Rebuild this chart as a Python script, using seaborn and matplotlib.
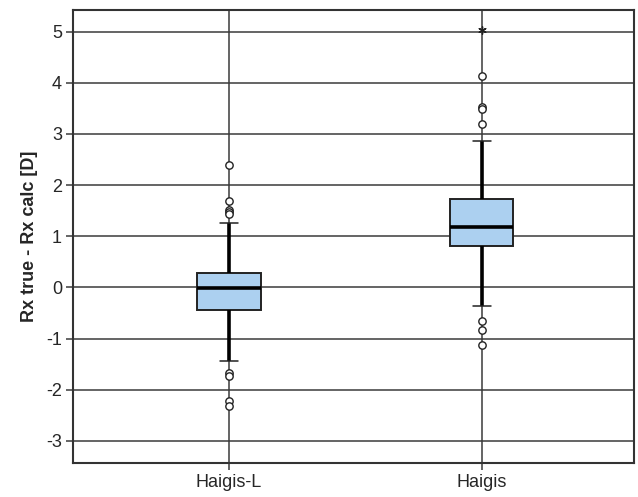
import numpy as np
import pandas as pd
import matplotlib
matplotlib.use("Agg")
import matplotlib.pyplot as plt
import seaborn as sns

# Formula groups
groups = ["Haigis-L", "Haigis"]

# Five-number summaries (lower whisker, Q1, median, Q3, upper whisker) in dioptres
summary_haigis_l = [-1.44, -0.45, -0.01, 0.28, 1.25]
summary_haigis = [-0.37, 0.80, 1.19, 1.72, 2.86]

# Outliers (circles) and extreme values (asterisk)
outliers_haigis_l = [2.40, 1.69, 1.52, 1.47, 1.43, -1.68, -1.73, -2.22, -2.31]
outliers_haigis = [4.13, 3.53, 3.48, 3.20, -0.65, -0.83, -1.12]
extremes_haigis = [5.04]

yticks = [-3, -2, -1, 0, 1, 2, 3, 4, 5]

sns.set_style("white")
plt.rcParams["font.family"] = ["Liberation Sans", "DejaVu Sans"]

box_df = pd.DataFrame({
    "group": [groups[0]] * len(summary_haigis_l) + [groups[1]] * len(summary_haigis),
    "value": summary_haigis_l + summary_haigis,
})
out_df = pd.DataFrame({
    "group": [groups[0]] * len(outliers_haigis_l) + [groups[1]] * len(outliers_haigis),
    "value": outliers_haigis_l + outliers_haigis,
})
ext_df = pd.DataFrame({"group": [groups[1]] * len(extremes_haigis), "value": extremes_haigis})

fig = plt.figure(figsize=(6.38, 4.97), dpi=100)
ax = fig.add_axes([0.1144, 0.0678, 0.8793, 0.9127])

grid_color = "#3a3a3a"
for y in yticks:
    ax.axhline(y, color=grid_color, lw=1.1, zorder=0)
for x in range(len(groups)):
    ax.axvline(x, color=grid_color, lw=1.1, zorder=0)

sns.boxplot(
    data=box_df, x="group", y="value", order=groups, ax=ax,
    whis=(0, 100), showfliers=False, width=0.25,
    color="#acd0f0", saturation=1,
    boxprops=dict(edgecolor="#222222", linewidth=1.4, zorder=2),
    medianprops=dict(color="black", linewidth=2.6, zorder=3),
    whiskerprops=dict(color="black", linewidth=2.6, zorder=2),
    capprops=dict(color="#222222", linewidth=1.1, zorder=2),
    capwidths=0.07,
)

sns.scatterplot(
    data=out_df, x="group", y="value", ax=ax, marker="o", s=28,
    facecolor="white", edgecolor="#222222", linewidth=1.0, zorder=4, legend=False,
)
sns.scatterplot(
    data=ext_df, x="group", y="value", ax=ax, marker=(6, 2, 0), s=28,
    color="#222222", linewidth=1.0, zorder=4, legend=False,
)

ax.set_xlim(-0.617, 1.602)
ax.set_ylim(-3.44, 5.43)
ax.set_yticks(yticks)
ax.set_yticklabels([str(t) for t in yticks])
ax.set_xticks(range(len(groups)))
ax.set_xticklabels(groups)
ax.set_xlabel("")
ax.set_ylabel("Rx true - Rx calc [D]", fontsize=13, fontweight="bold", labelpad=6)
ax.tick_params(axis="both", direction="out", length=5, width=1.1, color=grid_color,
               labelsize=13, pad=3, left=True, bottom=True)
for sp in ax.spines.values():
    sp.set_color("#333333")
    sp.set_linewidth(1.5)
    sp.set_visible(True)

fig.savefig("out.png", dpi=100)
